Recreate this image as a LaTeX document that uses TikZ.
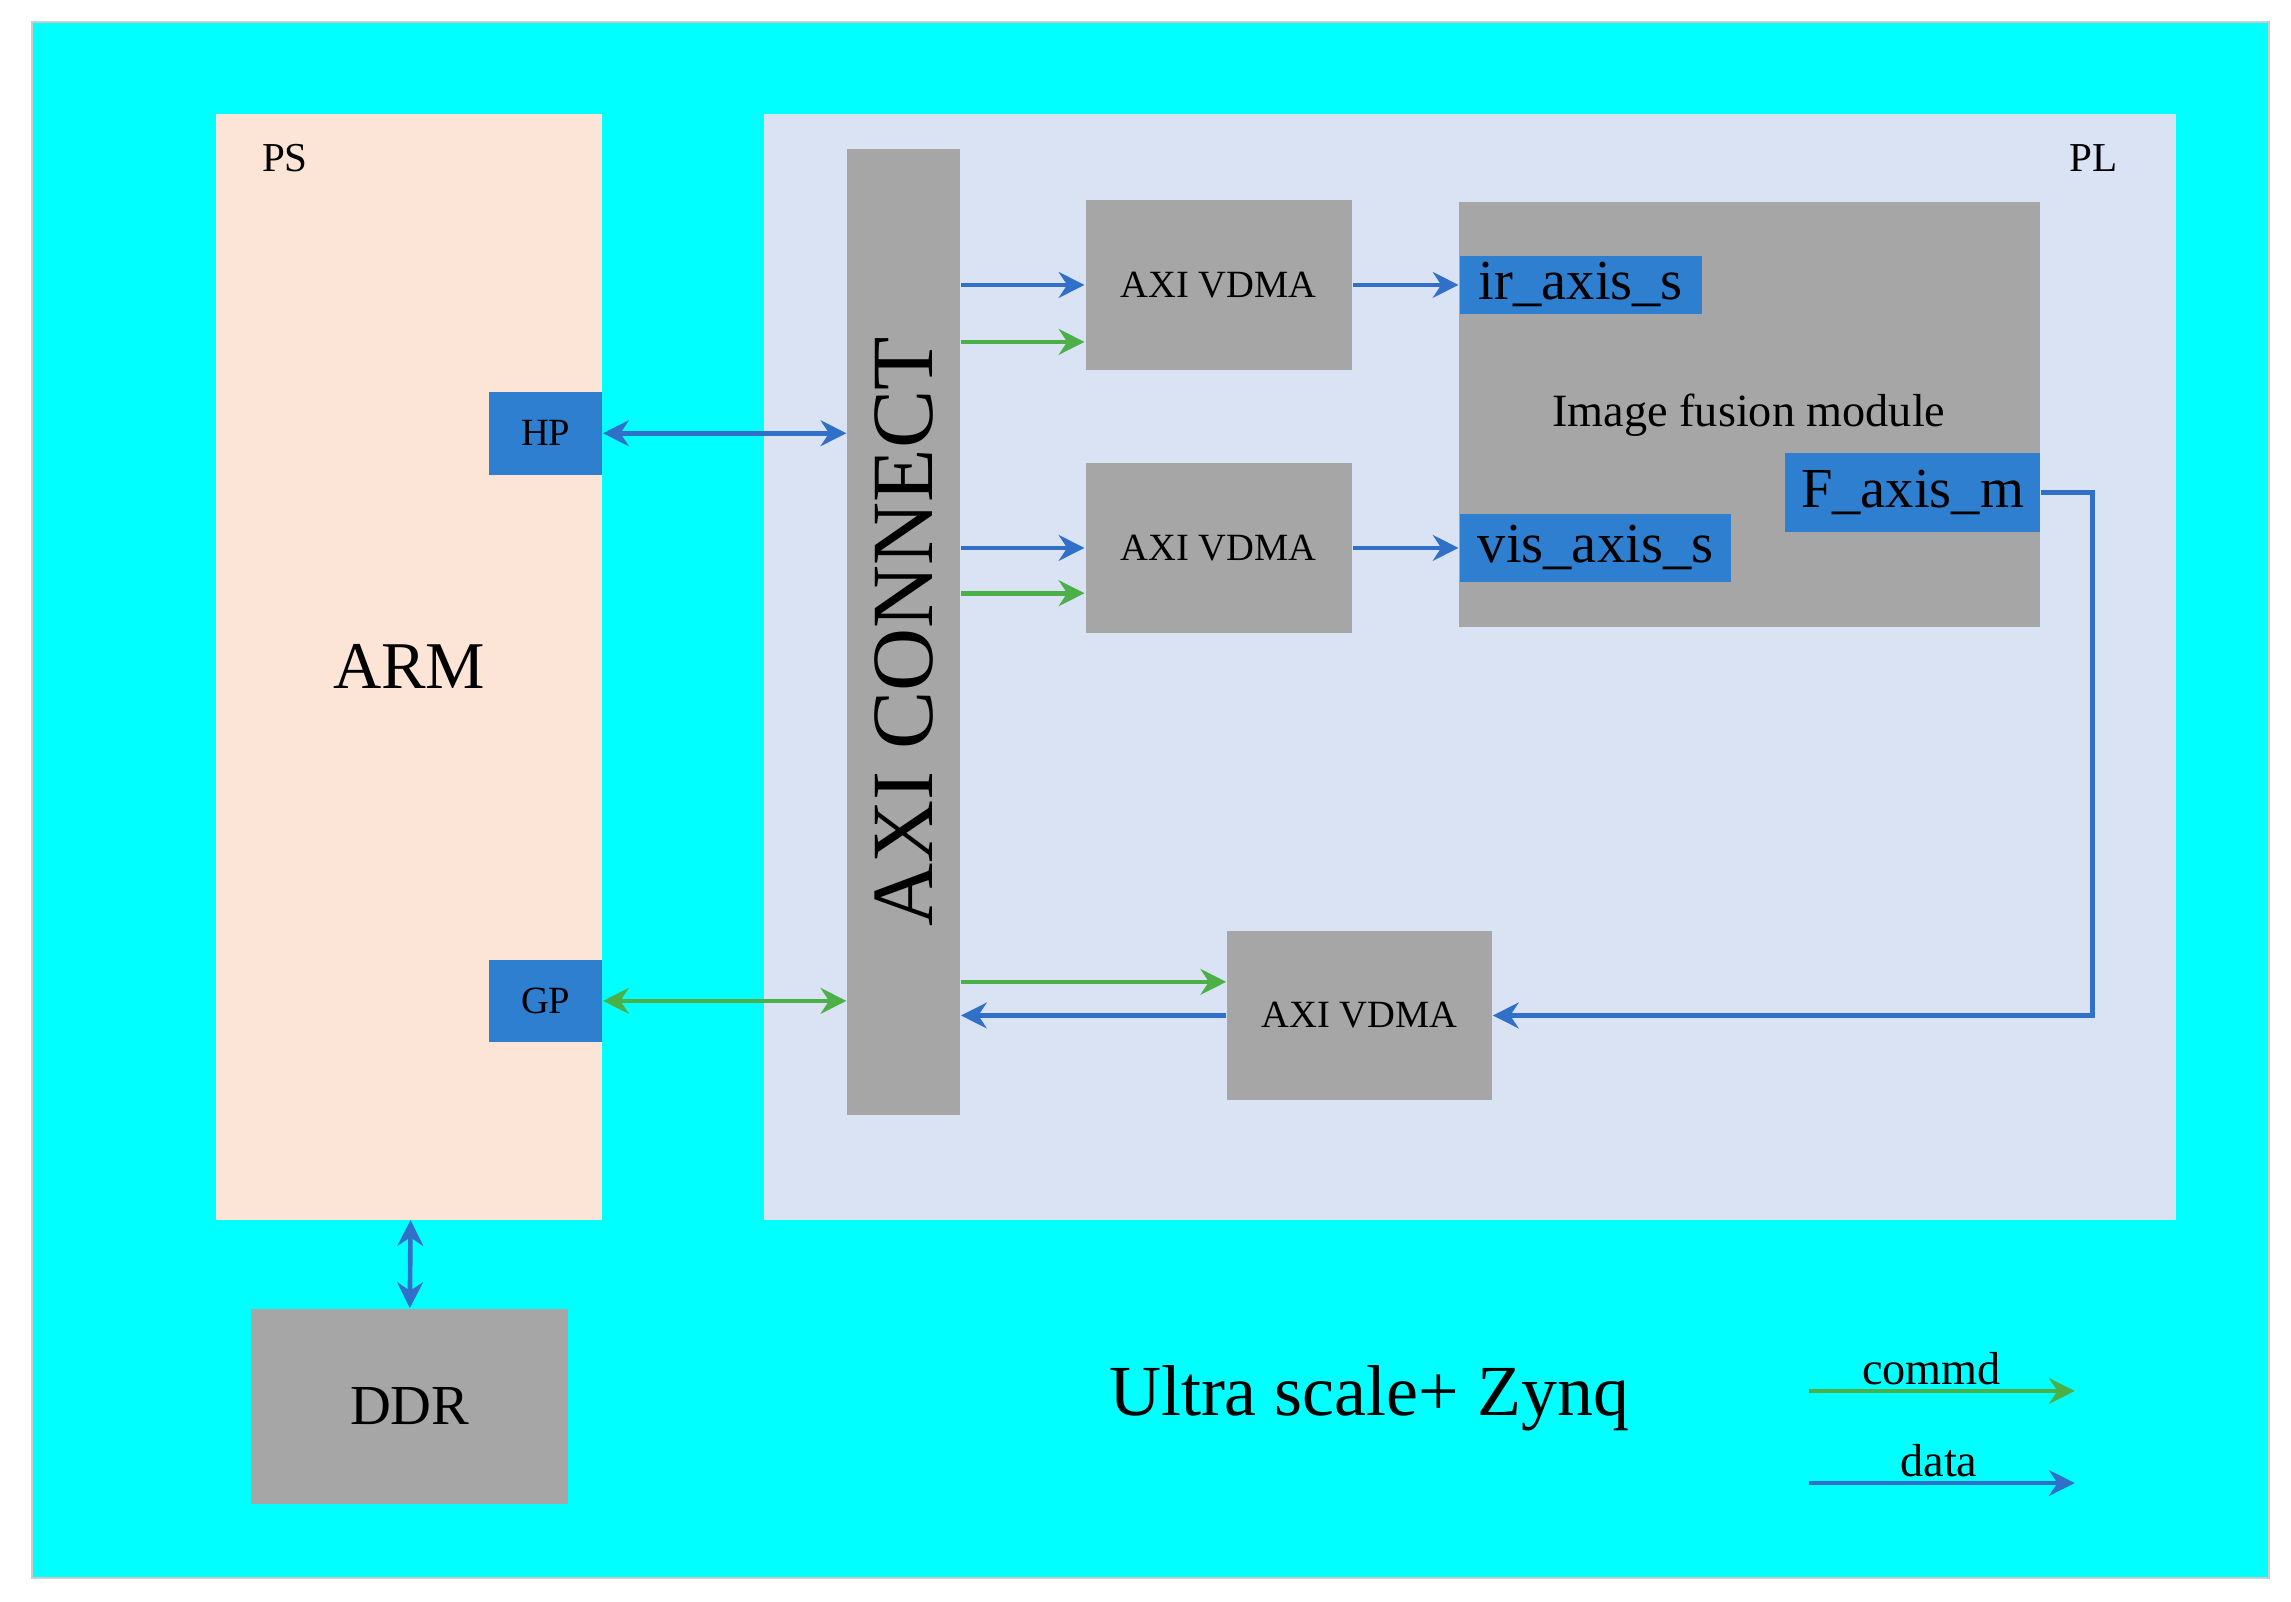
\documentclass[tikz,border=0pt]{standalone}
\usepackage{fontspec}
\setmainfont{Liberation Serif}
\usetikzlibrary{arrows.meta}
\definecolor{cy}{HTML}{00FFFF}
\definecolor{ps}{HTML}{FCE4D6}
\definecolor{pl}{HTML}{DAE3F3}
\definecolor{gr}{HTML}{A6A6A6}
\definecolor{bl}{HTML}{2E7FD0}
\definecolor{ln}{HTML}{3070C8}
\definecolor{gn}{HTML}{4CB048}
\begin{document}
\begin{tikzpicture}[x=0.01cm,y=-0.01cm,
 box/.style={fill=gr,draw=none,inner sep=0},
 port/.style={fill=bl,draw=none,inner sep=0},
 da/.style={draw=ln,line width=0.9pt,-{Stealth[length=5pt,width=5pt]}},
 ca/.style={draw=gn,line width=0.9pt,-{Stealth[length=5pt,width=5pt]}},
 dd/.style={draw=ln,line width=0.9pt,{Stealth[length=5pt,width=5pt]}-{Stealth[length=5pt,width=5pt]}},
 cc/.style={draw=gn,line width=0.9pt,{Stealth[length=5pt,width=5pt]}-{Stealth[length=5pt,width=5pt]}}]
\useasboundingbox (0,0) rectangle (1568,1096);
\fill[white] (0,0) rectangle (1568,1096);
\fill[cy,draw=gray!40] (22,15) rectangle (1553,1080);
\fill[ps] (148,78) rectangle (412,835);
\fill[pl] (523,78) rectangle (1489,835);
\node[font=\fontsize{8}{9}\selectfont] (pst) at (195,108) {PS};
\node[font=\fontsize{8}{9}\selectfont] (plt) at (1433,108) {PL};
\node[font=\fontsize{13}{15}\selectfont] (arm) at (280,456) {ARM};
\node[box,minimum width=0.77cm,minimum height=6.61cm] (axi) at (618.5,432.5) {};
\node[rotate=90,font=\fontsize{17}{19}\selectfont] at (axi) {AXI CONNECT};
\node[port,minimum width=0.77cm,minimum height=0.57cm,font=\fontsize{7.5}{9}\selectfont] (hp) at (373.5,296.5) {HP};
\node[port,minimum width=0.77cm,minimum height=0.56cm,font=\fontsize{7.5}{9}\selectfont] (gp) at (373.5,685) {GP};
\node[box,minimum width=1.82cm,minimum height=1.16cm,font=\fontsize{7.5}{9}\selectfont] (v1) at (834,195) {AXI VDMA};
\node[box,minimum width=1.82cm,minimum height=1.16cm,font=\fontsize{7.5}{9}\selectfont] (v2) at (834,375) {AXI VDMA};
\node[box,minimum width=1.81cm,minimum height=1.16cm,font=\fontsize{7.5}{9}\selectfont] (v3) at (930.5,695) {AXI VDMA};
\node[box,minimum width=3.97cm,minimum height=2.91cm] (fm) at (1197.5,283.5) {};
\node[font=\fontsize{9}{11}\selectfont] (fmt) at (1197,284) {Image fusion module};
\node[port,minimum width=1.66cm,minimum height=0.40cm,font=\fontsize{11}{13}\selectfont] (ir) at (1082,195) {ir\_axis\_s};
\node[port,minimum width=1.86cm,minimum height=0.46cm,font=\fontsize{11}{13}\selectfont] (vis) at (1092,375) {vis\_axis\_s};
\node[port,minimum width=1.74cm,minimum height=0.54cm,font=\fontsize{11}{13}\selectfont] (fo) at (1309,337) {F\_axis\_m};
\node[box,minimum width=2.17cm,minimum height=1.33cm,font=\fontsize{11}{13}\selectfont] (ddr) at (280.5,962.5) {DDR};
\node[font=\fontsize{14}{16}\selectfont] (us) at (937,957) {Ultra scale+ Zynq};
% arrows
\draw[da] (axi.east|-v1.west) -- (v1.west);
\draw[ca] (axi.east|-0,234) -- (v1.west|-0,234);
\draw[da] (v1.east) -- (ir.west);
\draw[da] (axi.east|-v2.west) -- (v2.west);
\draw[ca] (axi.east|-0,406) -- (v2.west|-0,406);
\draw[da] (v2.east) -- (vis.west);
\draw[dd] (hp.east) -- (axi.west|-hp.east);
\draw[cc] (gp.east) -- (axi.west|-gp.east);
\draw[ca] (axi.east|-0,672) -- (v3.west|-0,672);
\draw[da] (v3.west) -- (axi.east|-v3.west);
\draw[da] (fo.east) -- (1432,337) -- (1432,695) -- (v3.east);
\draw[dd] (281,835) -- (ddr.north);
\coordinate (lc1) at (1238,952); \coordinate (lc2) at (1420,952);
\coordinate (ld1) at (1238,1015); \coordinate (ld2) at (1420,1015);
\draw[ca] (lc1) -- (lc2);
\draw[da] (ld1) -- (ld2);
\node[font=\fontsize{9}{11}\selectfont] (lct) at (1322,937) {commd};
\node[font=\fontsize{9}{11}\selectfont] (ldt) at (1327,1000) {data};
\end{tikzpicture}
\end{document}
